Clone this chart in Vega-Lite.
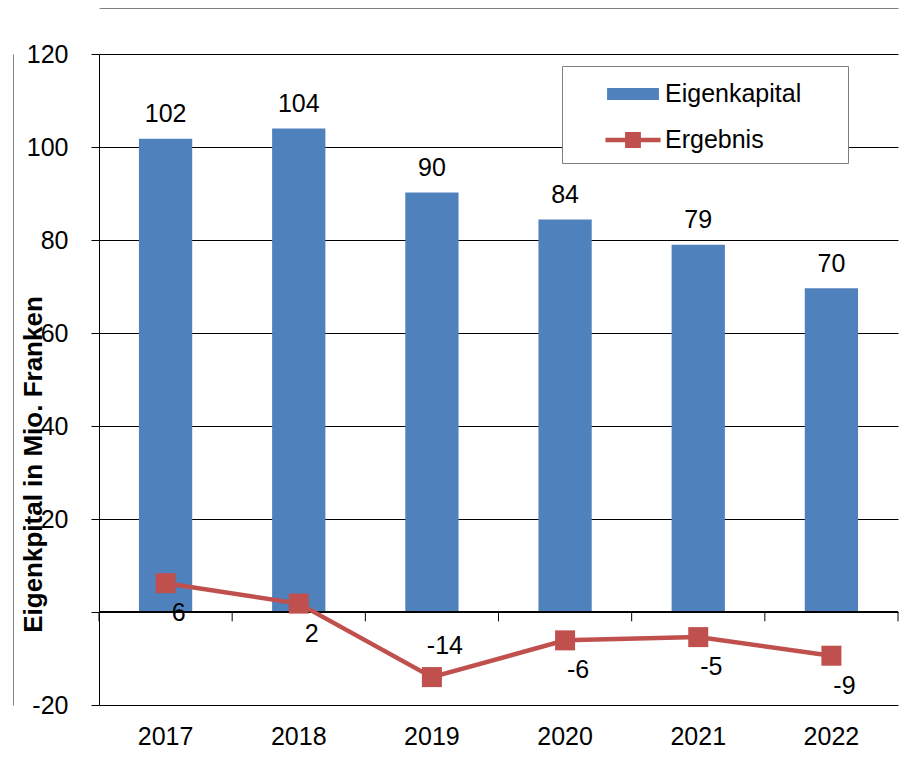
{
  "$schema": "https://vega.github.io/schema/vega-lite/v6.json",
  "width": 799,
  "height": 651,
  "autosize": {"type": "none"},
  "padding": {"left": 99, "top": 54, "right": 13, "bottom": 66},
  "background": "white",
  "config": {
    "font": "Liberation Sans",
    "view": {"stroke": null},
    "locale": {"number": {"decimal": ".", "thousands": "'", "grouping": [3], "currency": ["", " CHF"], "minus": "-"}},
    "axis": {"labelFont": "Liberation Sans", "labelColor": "black", "labelFontSize": 25}
  },
  "data": {
    "values": [
      {"year": "2017", "Eigenkapital": 101.8, "Ergebnis": 6.2},
      {"year": "2018", "Eigenkapital": 104.0, "Ergebnis": 1.8},
      {"year": "2019", "Eigenkapital": 90.2, "Ergebnis": -14.0},
      {"year": "2020", "Eigenkapital": 84.4, "Ergebnis": -6.1},
      {"year": "2021", "Eigenkapital": 79.0, "Ergebnis": -5.4},
      {"year": "2022", "Eigenkapital": 69.6, "Ergebnis": -9.4}
    ]
  },
  "resolve": {"axis": {"x": "independent", "y": "independent"}},
  "layer": [
    {
      "transform": [{"fold": ["Eigenkapital", "Ergebnis"], "as": ["series", "v"]}],
      "mark": {"type": "point", "opacity": 0, "filled": true},
      "encoding": {
        "x": {"field": "year", "type": "ordinal", "scale": {"paddingInner": 0, "paddingOuter": 0},
              "axis": {"orient": "top", "offset": 46, "domain": true, "domainColor": "#808080", "domainWidth": 1, "ticks": false, "labels": false, "grid": false, "title": null}},
        "y": {"field": "v", "type": "quantitative", "scale": {"domain": [-20, 120], "nice": false, "zero": false},
              "axis": {"orient": "left", "offset": 86, "domain": true, "domainColor": "#808080", "domainWidth": 1, "ticks": false, "labels": false, "grid": false, "title": null}},
        "color": {"field": "series", "type": "nominal",
                  "scale": {"domain": ["Eigenkapital", "Ergebnis"], "range": ["#4F81BD", "#C0504D"]},
                  "legend": {"title": "\u00a0", "titleOrient": "left", "titlePadding": 43, "titleFontSize": 25, "titleFont": "Liberation Sans",
                             "orient": "none", "legendX": 463, "legendY": 12, "padding": 10,
                             "fillColor": "white", "strokeColor": "#7f7f7f",
                             "symbolSize": 1296, "rowPadding": 15, "labelOffset": 14,
                             "labelExpr": "datum.label + '\u2800\u2800'",
                             "labelFontSize": 25, "labelFont": "Liberation Sans", "labelColor": "black", "labelLimit": 400,
                             "symbolOpacity": 1, "symbolStrokeWidth": 0}},
        "shape": {"field": "series", "type": "nominal",
                  "scale": {"domain": ["Eigenkapital", "Ergebnis"],
                            "range": ["M-1.44,-0.33H1.44V0.33H-1.44Z", "M-1.53,-0.13H1.53V0.13H-1.53Z M-0.44,-0.44H0.44V0.44H-0.44Z"]},
                  "legend": {"title": "\u00a0", "titleOrient": "left", "titlePadding": 43, "titleFontSize": 25, "titleFont": "Liberation Sans",
                             "orient": "none", "legendX": 463, "legendY": 12, "padding": 10,
                             "fillColor": "white", "strokeColor": "#7f7f7f",
                             "symbolSize": 1296, "rowPadding": 15, "labelOffset": 14,
                             "labelExpr": "datum.label + '\u2800\u2800'",
                             "labelFontSize": 25, "labelFont": "Liberation Sans", "labelColor": "black", "labelLimit": 400,
                             "symbolOpacity": 1, "symbolStrokeWidth": 0}}
      }
    },
    {
      "mark": {"type": "bar", "color": "#4F81BD", "width": {"band": 0.4}},
      "encoding": {
        "x": {"field": "year", "type": "ordinal", "scale": {"paddingInner": 0, "paddingOuter": 0},
              "axis": {"orient": "bottom", "domain": false, "ticks": false, "tickSize": 0, "grid": false, "labelPadding": 19, "labelAngle": 0, "title": null}},
        "y": {"field": "Eigenkapital", "type": "quantitative", "scale": {"domain": [-20, 120], "nice": false, "zero": false},
              "axis": {"orient": "left", "values": [-20, 0, 20, 40, 60, 80, 100, 120], "format": "d",
                       "labelExpr": "datum.value == 0 ? '' : datum.label",
                       "domain": true, "domainColor": "black", "domainWidth": 1,
                       "ticks": true, "tickColor": "black", "tickSize": 8, "tickWidth": 1,
                       "grid": true, "gridColor": "black", "gridWidth": 1, "gridOpacity": 1,
                       "labelPadding": 23,
                       "title": "Eigenkpital in Mio. Franken", "titleFont": "Liberation Sans", "titleFontSize": 26, "titleFontWeight": "bold",
                       "titleColor": "black", "titleAngle": 270, "titleX": -58, "titleY": 410, "titleAlign": "center", "titleBaseline": "alphabetic"}}
      }
    },
    {
      "mark": {"type": "rule", "color": "black", "strokeWidth": 1},
      "encoding": {"y": {"datum": 0, "type": "quantitative", "scale": {"domain": [-20, 120], "nice": false, "zero": false}, "axis": null}}
    },
    {
      "mark": {"type": "rule", "color": "black", "strokeWidth": 1},
      "encoding": {
        "x": {"field": "year", "type": "ordinal", "bandPosition": 0, "scale": {"paddingInner": 0, "paddingOuter": 0}, "axis": null},
        "y": {"datum": 0, "type": "quantitative", "scale": {"domain": [-20, 120], "nice": false, "zero": false}, "axis": null},
        "y2": {"datum": -2}
      }
    },
    {
      "transform": [{"filter": "datum.year == '2022'"}],
      "mark": {"type": "rule", "color": "black", "strokeWidth": 1},
      "encoding": {
        "x": {"field": "year", "type": "ordinal", "bandPosition": 1, "scale": {"paddingInner": 0, "paddingOuter": 0}, "axis": null},
        "y": {"datum": 0, "type": "quantitative", "scale": {"domain": [-20, 120], "nice": false, "zero": false}, "axis": null},
        "y2": {"datum": -2}
      }
    },
    {
      "mark": {"type": "line", "color": "#C0504D", "strokeWidth": 4.5},
      "encoding": {
        "x": {"field": "year", "type": "ordinal", "scale": {"paddingInner": 0, "paddingOuter": 0}, "axis": null},
        "y": {"field": "Ergebnis", "type": "quantitative", "scale": {"domain": [-20, 120], "nice": false, "zero": false}, "axis": null}
      }
    },
    {
      "mark": {"type": "point", "shape": "square", "filled": true, "opacity": 1, "size": 400, "color": "#C0504D"},
      "encoding": {
        "x": {"field": "year", "type": "ordinal", "scale": {"paddingInner": 0, "paddingOuter": 0}, "axis": null},
        "y": {"field": "Ergebnis", "type": "quantitative", "scale": {"domain": [-20, 120], "nice": false, "zero": false}, "axis": null}
      }
    },
    {
      "mark": {"type": "text", "fontSize": 25, "font": "Liberation Sans", "color": "black", "baseline": "alphabetic", "dy": -16.5},
      "encoding": {
        "x": {"field": "year", "type": "ordinal", "scale": {"paddingInner": 0, "paddingOuter": 0}, "axis": null},
        "y": {"field": "Eigenkapital", "type": "quantitative", "scale": {"domain": [-20, 120], "nice": false, "zero": false}, "axis": null},
        "text": {"field": "Eigenkapital", "type": "quantitative", "format": ".0f"}
      }
    },
    {
      "transform": [{"filter": "datum.Ergebnis > -10"}],
      "mark": {"type": "text", "fontSize": 25, "font": "Liberation Sans", "color": "black", "baseline": "alphabetic", "dx": 13, "dy": 38},
      "encoding": {
        "x": {"field": "year", "type": "ordinal", "scale": {"paddingInner": 0, "paddingOuter": 0}, "axis": null},
        "y": {"field": "Ergebnis", "type": "quantitative", "scale": {"domain": [-20, 120], "nice": false, "zero": false}, "axis": null},
        "text": {"field": "Ergebnis", "type": "quantitative", "format": ".0f"}
      }
    },
    {
      "transform": [{"filter": "datum.Ergebnis <= -10"}],
      "mark": {"type": "text", "fontSize": 25, "font": "Liberation Sans", "color": "black", "baseline": "alphabetic", "dx": 13, "dy": -23},
      "encoding": {
        "x": {"field": "year", "type": "ordinal", "scale": {"paddingInner": 0, "paddingOuter": 0}, "axis": null},
        "y": {"field": "Ergebnis", "type": "quantitative", "scale": {"domain": [-20, 120], "nice": false, "zero": false}, "axis": null},
        "text": {"field": "Ergebnis", "type": "quantitative", "format": ".0f"}
      }
    }
  ]
}
